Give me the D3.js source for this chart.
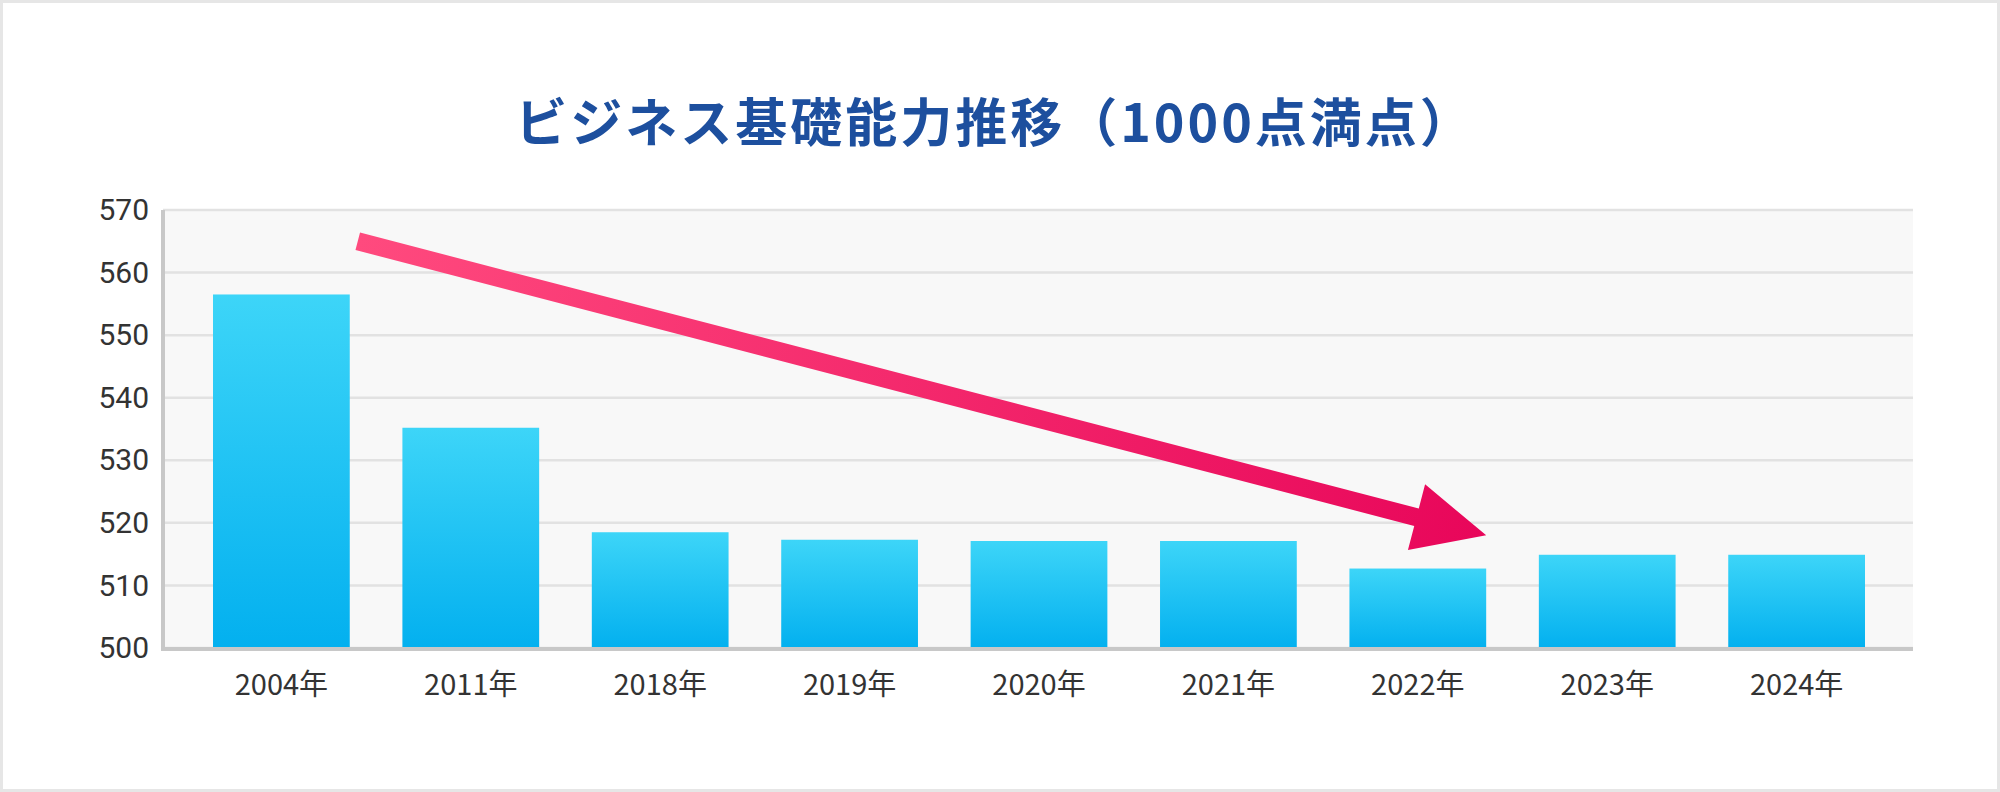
<!DOCTYPE html>
<html><head><meta charset="utf-8">
<script src="https://cdn.jsdelivr.net/npm/d3@7"></script>
<style>body{margin:0;background:#fff}svg{display:block}</style>
</head><body>
<script>
const categories=["2004年","2011年","2018年","2019年","2020年","2021年","2022年","2023年","2024年"];
const values=[556.5,535.2,518.5,517.3,517.1,517.1,512.7,514.9,514.9];
const yTicks=[500,510,520,530,540,550,560,570];
const titleText="ビジネス基礎能力推移（1000点満点）";
const arrowFrom={cat:"2004年",value:565};
const arrowTo={cat:"2022年",value:518};

(function(){
const W=2000,H=792;
const svg=d3.select("body").append("svg").attr("width",W).attr("height",H);
const defs=svg.append("defs");
const bg=defs.append("linearGradient").attr("id","bar").attr("x1",0).attr("y1",0).attr("x2",0).attr("y2",1);
bg.append("stop").attr("offset","0%").attr("stop-color","#3dd5f8");
bg.append("stop").attr("offset","100%").attr("stop-color","#03b0ef");
const ag=defs.append("linearGradient").attr("id","arr").attr("x1",0).attr("y1",0).attr("x2",1).attr("y2",0);
ag.append("stop").attr("offset","0%").attr("stop-color","#ff4a7e");
ag.append("stop").attr("offset","100%").attr("stop-color","#e8065a");

svg.append("rect").attr("x",1.5).attr("y",1.5).attr("width",W-3).attr("height",H-3).attr("fill","#fff").attr("stroke","#e6e6e6").attr("stroke-width",3);

const pL=163,pR=1913,pT=210,pB=648;
const x=d3.scaleBand().domain(categories).range([213,1865]).paddingInner(0.278).paddingOuter(0);
const y=d3.scaleLinear().domain([500,570]).range([pB,pT]);

svg.append("rect").attr("x",pL).attr("y",pT).attr("width",pR-pL).attr("height",pB-pT).attr("fill","#f8f8f8");
svg.append("g").selectAll("line").data(yTicks).join("line")
 .attr("x1",pL).attr("x2",pR).attr("y1",d=>y(d)).attr("y2",d=>y(d))
 .attr("stroke","#e2e2e2").attr("stroke-width",2.5);

svg.append("g").selectAll("rect").data(values).join("rect")
 .attr("x",(d,i)=>x(categories[i])).attr("width",x.bandwidth())
 .attr("y",d=>y(d)).attr("height",d=>y(500)-y(d)).attr("fill","url(#bar)");

svg.append("line").attr("x1",pL).attr("x2",pL).attr("y1",pT).attr("y2",pB+2).attr("stroke","#c8c8c8").attr("stroke-width",4);
svg.append("line").attr("x1",pL-2).attr("x2",pR).attr("y1",pB+1).attr("y2",pB+1).attr("stroke","#c8c8c8").attr("stroke-width",4);

const gy=svg.append("g").attr("transform",`translate(${pL},0)`).call(d3.axisLeft(y).tickValues(yTicks).tickSize(0).tickPadding(14));
gy.select(".domain").remove();
gy.selectAll("text").attr("font-family","Roboto, 'Noto Sans CJK JP', sans-serif").attr("font-size",30).attr("fill","#333");

const gx=svg.append("g").attr("transform",`translate(0,${pB})`).call(d3.axisBottom(x).tickSize(0).tickPadding(26));
gx.select(".domain").remove();
gx.selectAll("text").attr("font-family","'Noto Sans CJK JP', sans-serif").attr("font-size",29).attr("fill","#333");

const x0=x(arrowFrom.cat)+x.bandwidth()+8, y0=y(arrowFrom.value);
const x1=x(arrowTo.cat)+x.bandwidth(), y1=y(arrowTo.value);
const ang=Math.atan2(y1-y0,x1-x0), len=Math.hypot(x1-x0,y1-y0);
const sw=9, hl=72, hw=34;
svg.append("g").attr("transform",`translate(${x0},${y0}) rotate(${ang*180/Math.PI})`)
 .append("path").attr("d",`M0,${-sw}L${len-hl},${-sw}L${len-hl},${-hw}L${len},0L${len-hl},${hw}L${len-hl},${sw}L0,${sw}Z`)
 .attr("fill","url(#arr)");

svg.append("text").attr("x",995).attr("y",142).attr("text-anchor","middle")
 .attr("font-family","'Noto Sans CJK JP', sans-serif").attr("font-weight",700).attr("font-size",52)
 .attr("letter-spacing",3).attr("fill","#1d4f9e").text(titleText);
})();
</script>
</body></html>
